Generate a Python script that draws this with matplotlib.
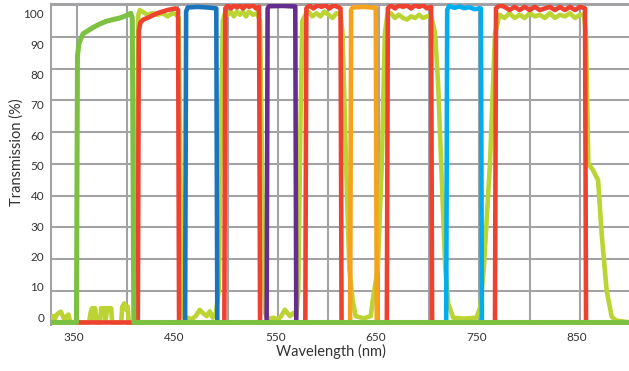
import matplotlib
matplotlib.use("Agg")
import matplotlib.pyplot as plt

# colours
RED = "#ee4130"
LIME = "#bcd433"
GREEN = "#7cc142"
BLUE = "#1b75bc"
PURPLE = "#662d91"
ORANGE = "#f7a21b"
SKY = "#00aeef"
GRID = "#a3a3a6"
TEXT = "#333333"

# --- data (wavelength nm, transmission %) ---
green_nm = [324, 349.5, 350.5, 352, 356, 361, 366, 372, 379.5, 386, 392.7, 397, 401, 403.5, 405, 406.5, 899]
green_val = [0, 0, 84, 88, 91, 92, 93, 94, 95, 95.5, 96, 96.5, 97, 97.5, 96, 0, 0]

lime_nm = [324, 326, 328, 330, 332, 334, 336, 338, 340, 341.5, 343, 345, 362, 363.5, 365, 366.5, 368, 369.5,
           373, 374, 377.5, 378.5, 380, 384, 385, 394, 395, 397, 399, 400.5, 401.5, 408, 410, 411, 412.5,
           415, 420, 425, 430, 435, 440, 445, 449, 451, 452.5, 454, 456, 460, 464, 468, 472, 475, 479, 482,
           485, 488, 491, 493, 495, 497, 500, 503, 506, 509, 512, 515, 518, 521, 525, 529, 532, 533.5, 535,
           537, 540, 545, 550, 553, 556.7, 559, 561.7, 565, 568, 570, 572, 574, 577, 580, 584, 588, 592, 596,
           600, 604, 608, 612, 614, 617.5, 620.7, 624, 627, 635, 642, 644, 649, 653, 656, 658.5, 662, 666,
           670, 674, 678, 682, 686, 690, 694, 698, 702, 704, 706, 709, 712, 716, 719, 724, 735, 747, 751,
           754.5, 760.5, 765.5, 770, 775, 780, 785, 790, 795, 800, 805, 810, 815, 820, 825, 830, 835, 840,
           845, 850, 854, 856, 858.3, 863, 868, 871.5, 876.5, 881.5, 886, 893, 899]
lime_val = [0, 2, 1, 2.5, 3, 3.4, 2, 0.5, 2, 2.5, 0.5, 0, 0, 3, 4.5, 1, 4.5, 0,
            0, 4.5, 4.5, 0.5, 4.5, 4.5, 0, 0, 5, 6, 4, 5, 0, 0, 60, 97, 98.5,
            98, 97, 97.5, 97, 97.5, 96.5, 97.5, 97, 96, 60, 10, 1.5, 1.5, 1, 2, 4, 3, 2, 3.5,
            1.5, 3, 10, 60, 95, 97.5, 97, 98, 96.5, 98, 97, 98, 96.5, 98, 97, 97.5, 95, 60, 20,
            3, 1, 1.5, 1, 2, 4, 3, 2, 3, 2, 10, 60, 95, 97, 98, 96.5, 97.5, 96.5, 98,
            97, 96, 97.5, 97, 91, 50, 17, 7, 2, 1.3, 2, 7, 17, 50, 91, 97, 97.5, 96,
            97, 96, 95.5, 96.5, 96, 97, 96, 96.5, 96.5, 94, 91, 75, 50, 17.5, 6, 1.5, 1.2, 1.5, 5,
            17.5, 50, 91, 97, 96, 97.5, 96, 97, 96, 97.5, 96.5, 97, 96, 97.5, 96, 97, 96.5, 97.5,
            96, 97, 97, 90, 50, 48, 44.8, 28, 10, 1.8, 0.6, 0.3, 0]

red_nm = [350, 410.5, 411.5, 413, 416, 420, 430, 440, 448, 450.5, 451.5,
          496.5, 497.5, 500, 503, 506, 509, 512, 515, 518, 521, 525, 528, 531, 532,
          577, 578, 581, 585, 589, 593, 597, 601, 605, 609, 612, 613,
          658, 659, 662, 666, 670, 674, 678, 682, 686, 690, 694, 698, 702, 703,
          765.5, 766.5, 770, 775, 780, 785, 790, 795, 800, 805, 810, 815, 820, 825, 830, 835,
          840, 845, 850, 855, 856, 899]
red_val = [0, 0, 92, 94.5, 95.5, 96, 97.5, 98.5, 99, 98.5, 0,
           0, 99, 100, 99, 100, 99.3, 100, 99, 100, 99.5, 100, 99, 99.5, 0,
           0, 99, 100, 99, 100, 99.5, 100, 99, 100, 99.5, 99, 0,
           0, 99, 100, 99, 100, 99.5, 100, 99, 100, 99.5, 100, 99, 99.5, 0,
           0, 99, 100, 99.5, 98.5, 99.5, 98.5, 99.5, 98.5, 99.5, 98.5, 99, 99.5, 98.5, 99.5, 98.5,
           99.5, 98.5, 99.5, 99, 0, 0]

blue_nm = [440, 457.5, 458.5, 460, 470, 480, 488.5, 489.5, 505]
blue_val = [0, 0, 98, 99.3, 99.5, 99.3, 99, 0, 0]

purple_nm = [530, 538.5, 539.5, 541, 555, 567, 568, 580]
purple_val = [0, 0, 99, 99.7, 99.8, 99.6, 0, 0]

orange_nm = [615, 621.5, 622.5, 624, 635, 647, 648, 655]
orange_val = [0, 0, 98.5, 99.3, 99.5, 99.2, 0, 0]

sky_nm = [710, 717, 718, 720, 725, 730, 735, 740, 745, 751.5, 752.5, 760]
sky_val = [0, 0, 98.5, 99.8, 99.2, 99.6, 99.1, 99.4, 98.8, 99, 0, 0]

x_labels = [350, 450, 550, 650, 750, 850]
x_grid = [350, 400, 450, 500, 550, 600, 650, 700, 750, 800, 850]
y_labels = [0, 10, 20, 30, 40, 50, 60, 70, 80, 90, 100]

plt.rcParams["font.family"] = ["Lato", "DejaVu Sans"]

fig = plt.figure(figsize=(6.29, 3.71), dpi=100)
ax = fig.add_axes([51 / 629, 46 / 371, 578 / 629, 321 / 371])

lw = 3.3
ax.plot(lime_nm, lime_val, color=LIME, lw=lw, zorder=3)
ax.plot(red_nm, red_val, color=RED, lw=lw, zorder=4)
ax.plot(blue_nm, blue_val, color=BLUE, lw=lw, zorder=4)
ax.plot(purple_nm, purple_val, color=PURPLE, lw=lw, zorder=4)
ax.plot(orange_nm, orange_val, color=ORANGE, lw=lw, zorder=4)
ax.plot(sky_nm, sky_val, color=SKY, lw=lw, zorder=4)
ax.plot(green_nm, green_val, color=GREEN, lw=3.6, zorder=5)

ax.set_xlim(324.2, 898.7)
ax.set_ylim(-0.8, 100.4)

# grid on minor ticks, labels on major ticks (labels sit slightly lower than the grid in the original)
ax.set_xticks(x_grid, minor=True)
ax.set_xticks([v - 3 for v in x_labels])
ax.set_xticklabels([str(v) for v in x_labels])
ax.set_yticks(y_labels, minor=True)
ax.set_yticks([1.7 + 0.956 * v for v in y_labels])
ax.set_yticklabels([str(v) for v in y_labels])
ax.grid(False)
ax.grid(True, which="minor", color=GRID, lw=1.5, zorder=1)
ax.tick_params(which="both", length=0)
ax.tick_params(axis="x", pad=5, labelsize=8.5, colors=TEXT)
ax.tick_params(axis="y", pad=5, labelsize=8.5, colors=TEXT)
ax.set_axisbelow(True)

for s in ["right", "bottom"]:
    ax.spines[s].set_visible(False)
for s in ["left", "top"]:
    ax.spines[s].set_color(GRID)
    ax.spines[s].set_linewidth(1.5)

ax.set_xlabel("Wavelength (nm)", fontsize=10.5, color=TEXT)
ax.set_ylabel("Transmission (%)", fontsize=10.5, color=TEXT)
ax.xaxis.set_label_coords(0.484, -0.059)
ax.yaxis.set_label_coords(-0.047, 0.537)

fig.savefig("out.png", dpi=100)
